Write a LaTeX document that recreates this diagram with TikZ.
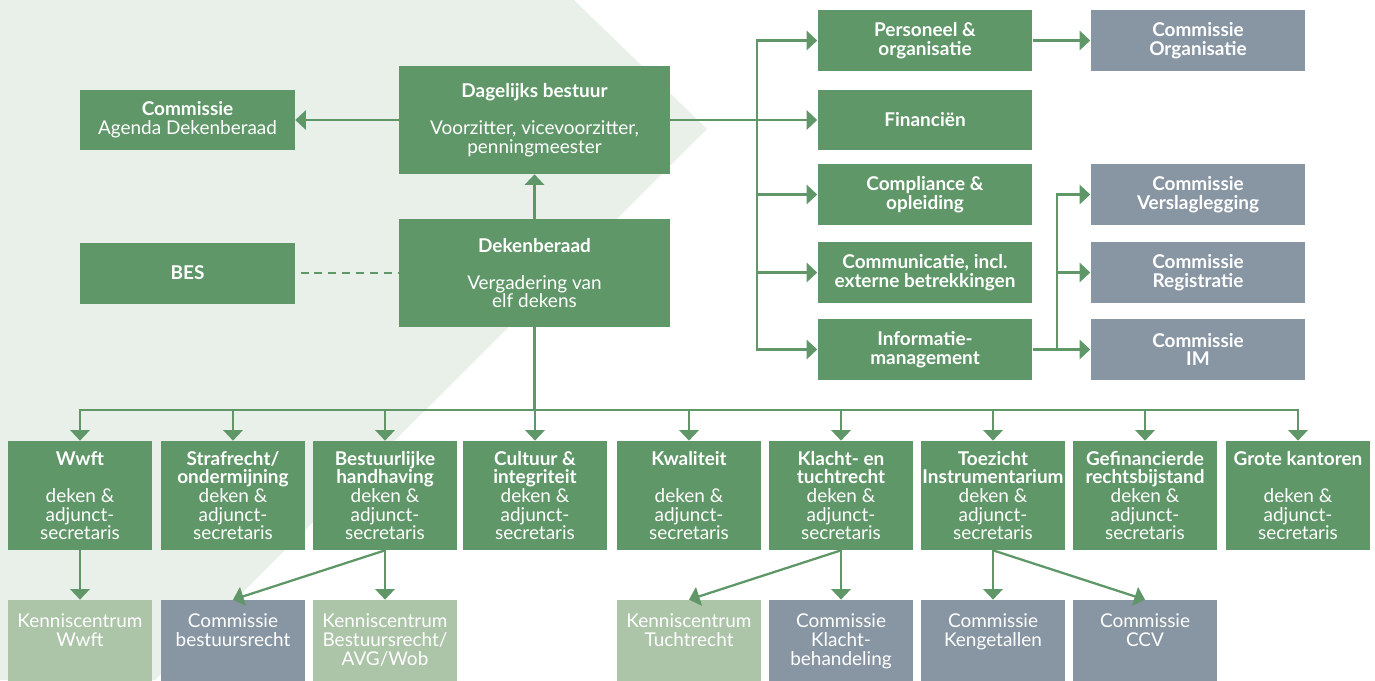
\documentclass[tikz,border=0pt]{standalone}
\usepackage{fontspec}
\setmainfont{Lato}
\usetikzlibrary{arrows.meta}

\definecolor{boxgreen}{RGB}{95,151,104}
\definecolor{boxgrey}{RGB}{136,150,163}
\definecolor{boxlight}{RGB}{172,196,168}
\definecolor{backgreen}{RGB}{233,240,234}

\tikzset{
  box/.style={fill=boxgreen, text=white, inner sep=0pt, align=center,
    font=\fontsize{10.8}{10.6}\selectfont},
  smallbox/.style={box, minimum width=4.3cm, minimum height=1.22cm},
  bigbox/.style={box, minimum width=5.42cm, minimum height=2.16cm},
  colbox/.style={box, minimum width=2.88cm, minimum height=2.18cm},
  lowbox/.style={box, minimum width=2.88cm, minimum height=2cm},
  greybox/.style={fill=boxgrey},
  lightbox/.style={fill=boxlight},
  conn/.style={draw=boxgreen, line width=1.3pt},
  arr/.style={conn, -{Triangle[width=11pt,length=6pt]}},
}

\newcommand{\dekenadj}{deken \&\\ adjunct-\\ secretaris}
\newcommand{\lowtext}[1]{\parbox[c][1.44cm][t]{2.8cm}{\centering #1}}

\begin{document}
\begin{tikzpicture}[x=0.02cm, y=-0.02cm]
  \useasboundingbox (0,0) rectangle (1375,680);
  \clip (0,0) rectangle (1375,680);
  \fill [backgreen] (0,0) -- (574,0) -- (707,129) -- (155,680) -- (0,680) -- cycle;

  % bestuur
  \node [bigbox] (db) at (534.5,120) {{\bfseries Dagelijks bestuur}\\[10.6pt] Voorzitter, vicevoorzitter,\\ penningmeester};
  \node [bigbox] (dkb) at (534.5,273) {{\bfseries Dekenberaad}\\[10.6pt] Vergadering van\\ elf dekens};
  \node [smallbox] (cad) at (187.5,120) {{\bfseries Commissie}\\ Agenda Dekenberaad};
  \node [smallbox] (bes) at (187.5,273) {\bfseries BES};

  \draw [arr] (dkb) -- (db);
  \draw [arr] (db) -- (cad);
  \draw [conn, dash pattern=on 4.5pt off 3.4pt, shorten <=3pt] (bes) -- (dkb);

  % portefeuilles
  \node [smallbox] (po) at (925,40.5) {\bfseries Personeel \&\\ \bfseries organisatie};
  \node [smallbox] (fin) at (925,120) {\bfseries Financiën};
  \node [smallbox] (co) at (925,194.5) {\bfseries Compliance \&\\ \bfseries opleiding};
  \node [smallbox] (cm) at (925,272.5) {\bfseries Communicatie, incl.\\ \bfseries externe betrekkingen};
  \node [smallbox] (im) at (925,349.5) {\bfseries Informatie-\\ \bfseries management};

  \node [smallbox, greybox] (corg) at (1198,40.5) {\bfseries Commissie\\ \bfseries Organisatie};
  \node [smallbox, greybox] (cvl) at (1198,194.5) {\bfseries Commissie\\ \bfseries Verslaglegging};
  \node [smallbox, greybox] (creg) at (1198,272.5) {\bfseries Commissie\\ \bfseries Registratie};
  \node [smallbox, greybox] (cim) at (1198,349.5) {\bfseries Commissie\\ \bfseries IM};

  \coordinate (trunk) at (757,120);
  \draw [arr] (db) -- (fin);
  \draw [arr] (trunk) |- (po);
  \draw [arr] (trunk) |- (co);
  \draw [arr] (trunk) |- (cm);
  \draw [arr] (trunk) |- (im);
  \draw [arr] (po) -- (corg);

  \coordinate (imfork) at (1057,349.5);
  \draw [arr] (im) -- (cim);
  \draw [arr] (imfork) |- (cvl);
  \draw [arr] (imfork) |- (creg);

  % dekens
  \node [colbox] (wwft) at (80,495.5) {{\bfseries Wwft}\\[10.6pt] \dekenadj};
  \node [colbox] (straf) at (233,495.5) {{\bfseries Strafrecht/}\\ {\bfseries ondermijning}\\ \dekenadj};
  \node [colbox] (bh) at (385,495.5) {{\bfseries Bestuurlijke}\\ {\bfseries handhaving}\\ \dekenadj};
  \node [colbox] (cult) at (535,495.5) {{\bfseries Cultuur \&}\\ {\bfseries integriteit}\\ \dekenadj};
  \node [colbox] (kwal) at (689,495.5) {{\bfseries Kwaliteit}\\[10.6pt] \dekenadj};
  \node [colbox] (kt) at (841,495.5) {{\bfseries Klacht- en}\\ {\bfseries tuchtrecht}\\ \dekenadj};
  \node [colbox] (ti) at (993,495.5) {{\bfseries Toezicht}\\ {\bfseries Instrumentarium}\\ \dekenadj};
  \node [colbox] (gr) at (1145,495.5) {{\bfseries Gefinancierde}\\ {\bfseries rechtsbijstand}\\ \dekenadj};
  \node [colbox] (gk) at (1298,495.5) {{\bfseries Grote kantoren}\\[10.6pt] \dekenadj};

  \coordinate (bus) at (534.5,410);
  \draw [conn] (dkb) -- (bus);
  \draw [arr] (bus) -| (wwft);
  \draw [arr] (bus) -| (straf);
  \draw [arr] (bus) -| (bh);
  \draw [arr] (bus) -| (cult);
  \draw [arr] (bus) -| (kwal);
  \draw [arr] (bus) -| (kt);
  \draw [arr] (bus) -| (ti);
  \draw [arr] (bus) -| (gr);
  \draw [arr] (bus) -| (gk);

  % kenniscentra en commissies
  \node [lowbox, lightbox] (kcw) at (80,650) {\lowtext{Kenniscentrum\\ Wwft}};
  \node [lowbox, greybox] (cbr) at (233,650) {\lowtext{Commissie\\ bestuursrecht}};
  \node [lowbox, lightbox] (kcb) at (385,650) {\lowtext{Kenniscentrum\\ Bestuursrecht/\\ AVG/Wob}};
  \node [lowbox, lightbox] (kct) at (689,650) {\lowtext{Kenniscentrum\\ Tuchtrecht}};
  \node [lowbox, greybox] (ckb) at (841,650) {\lowtext{Commissie\\ Klacht-\\ behandeling}};
  \node [lowbox, greybox] (ckg) at (993,650) {\lowtext{Commissie\\ Kengetallen}};
  \node [lowbox, greybox] (cccv) at (1145,650) {\lowtext{Commissie\\ CCV}};

  \draw [arr] (wwft) -- (kcw);
  \draw [arr] (bh.south) -- (cbr.north);
  \draw [arr] (bh) -- (kcb);
  \draw [arr] (kt.south) -- (kct.north);
  \draw [arr] (kt) -- (ckb);
  \draw [arr] (ti) -- (ckg);
  \draw [arr] (ti.south) -- (cccv.north);
\end{tikzpicture}
\end{document}
